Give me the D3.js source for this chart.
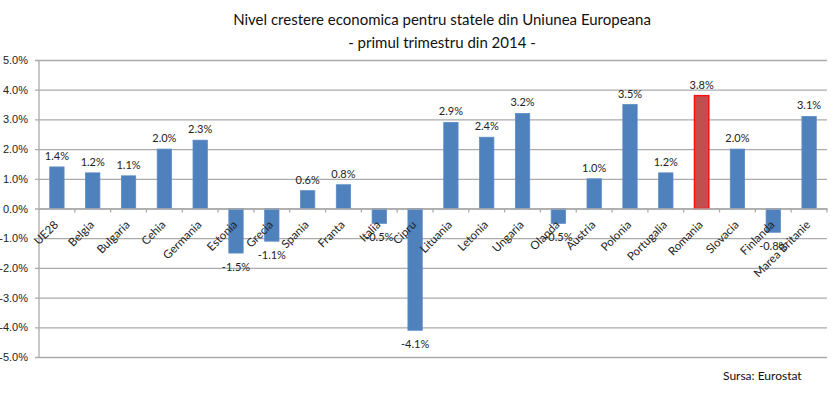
<!DOCTYPE html>
<html>
<head>
<meta charset="utf-8">
<script src="https://cdn.jsdelivr.net/npm/d3@7"></script>
<style>
  body { margin: 0; background: #fff; }
  svg { font-family: Lato, "Open Sans", sans-serif; }
</style>
</head>
<body>
<div id="chart"></div>
<script>
// categories and values (% growth, Q1 2014)
var countries = ["UE28", "Belgia", "Bulgaria", "Cehia", "Germania", "Estonia", "Grecia",
  "Spania", "Franta", "Italia", "Cipru", "Lituania", "Letonia", "Ungaria", "Olanda",
  "Austria", "Polonia", "Portugalia", "Romania", "Slovacia", "Finlanda", "Marea Britanie"];
var growth = [1.4, 1.2, 1.1, 2.0, 2.3, -1.5, -1.1, 0.6, 0.8, -0.5, -4.1, 2.9, 2.4, 3.2,
  -0.5, 1.0, 3.5, 1.2, 3.8, 2.0, -0.8, 3.1];
var yTicks = [5, 4, 3, 2, 1, 0, -1, -2, -3, -4, -5];
var highlight = "Romania";

var width = 836, height = 395;
var margin = { top: 60, right: 9, bottom: 38, left: 39 };

var svg = d3.select("#chart").append("svg")
  .attr("width", width)
  .attr("height", height);

var data = countries.map(function (c, i) { return { name: c, value: growth[i] }; });

// x scale: one band per country, bar = 40% of band
var x = d3.scaleBand()
  .domain(countries)
  .range([margin.left, width - margin.right])
  .paddingInner(0.6)
  .paddingOuter(0.3);

var xb = d3.scaleBand()
  .domain(countries)
  .range([margin.left, width - margin.right]);

var y = d3.scaleLinear()
  .domain([-5, 5])
  .range([height - margin.bottom, margin.top]);

var fmt = function (d) { return d.toFixed(1) + "%"; };

// gridlines + y labels
var yAxis = svg.append("g")
  .attr("transform", "translate(" + margin.left + ",0)")
  .call(d3.axisLeft(y).tickValues(yTicks).tickFormat(fmt)
    .tickSize(-(width - margin.left - margin.right)).tickPadding(11));
yAxis.select(".domain").remove();
yAxis.selectAll(".tick line")
  .attr("x1", -4)
  .attr("stroke", "#ababab")
  .attr("stroke-width", 1.3);
yAxis.selectAll(".tick text")
  .attr("fill", "#222")
  .style("font-size", "11px");

// vertical axis line
svg.append("line")
  .attr("x1", margin.left).attr("x2", margin.left)
  .attr("y1", y(5)).attr("y2", y(-5))
  .attr("stroke", "#ababab").attr("stroke-width", 1.3);

// bars
svg.selectAll(".bar")
  .data(data)
  .enter().append("rect")
  .attr("class", "bar")
  .attr("x", function (d) { return x(d.name); })
  .attr("width", x.bandwidth())
  .attr("y", function (d) { return y(Math.max(0, d.value)); })
  .attr("height", function (d) { return Math.abs(y(d.value) - y(0)); })
  .attr("fill", function (d) { return d.name === highlight ? "#C0504D" : "#4F81BD"; })
  .attr("stroke", function (d) { return d.name === highlight ? "#FF1010" : "#5A8AC4"; })
  .attr("stroke-width", function (d) { return d.name === highlight ? 1.5 : 0.8; });

// category axis at zero
var xAxis = svg.append("g")
  .attr("transform", "translate(0," + y(0) + ")")
  .call(d3.axisBottom(xb).tickSize(0).tickFormat(""));
xAxis.select(".domain").attr("stroke", "#ababab").attr("stroke-width", 1.3);
xAxis.selectAll(".tick").remove();

// tick marks between categories
svg.append("g").selectAll("line")
  .data(countries.slice(1).concat(["end"]))
  .enter().append("line")
  .attr("x1", function (d, i) { return i < countries.length - 1 ? xb(d) : width - margin.right; })
  .attr("x2", function (d, i) { return i < countries.length - 1 ? xb(d) : width - margin.right; })
  .attr("y1", y(0))
  .attr("y2", y(0) + 4)
  .attr("stroke", "#ababab")
  .attr("stroke-width", 1.3);

// rotated category labels
svg.append("g").selectAll("text")
  .data(countries)
  .enter().append("text")
  .attr("transform", function (d) {
    return "translate(" + (xb(d) + xb.bandwidth() / 2 + 2) + "," + (y(0) + 17) + ") rotate(-45)";
  })
  .attr("text-anchor", "end")
  .attr("fill", "#222")
  .style("font-size", "11.5px")
  .text(function (d) { return d; });

// data labels
svg.append("g").selectAll("text")
  .data(data)
  .enter().append("text")
  .attr("x", function (d) { return x(d.name) + x.bandwidth() / 2; })
  .attr("y", function (d) { return d.value >= 0 ? y(d.value) - 7 : y(d.value) + 18; })
  .attr("text-anchor", "middle")
  .attr("fill", "#222")
  .style("font-size", "11px")
  .text(function (d) { return fmt(d.value); });

// title
var title = svg.append("text")
  .attr("text-anchor", "middle")
  .attr("fill", "#111")
  .style("font-size", "15px");
title.append("tspan").attr("x", 442).attr("y", 25)
  .text("Nivel crestere economica pentru statele din Uniunea Europeana");
title.append("tspan").attr("x", 442).attr("y", 48)
  .text("- primul trimestru din 2014 -");

// source
svg.append("text")
  .attr("x", 723).attr("y", 380)
  .attr("fill", "#111")
  .style("font-size", "12px")
  .text("Sursa: Eurostat");
</script>
</body>
</html>
